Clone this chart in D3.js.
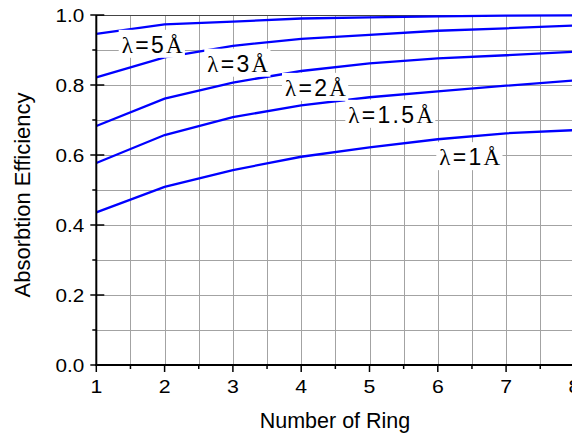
<!DOCTYPE html>
<html>
<head>
<meta charset="utf-8">
<script src="https://cdn.jsdelivr.net/npm/d3@7"></script>
<style>
  html, body { margin: 0; padding: 0; background: #fff; }
  svg { display: block; }
</style>
</head>
<body>
<svg id="chart" width="572" height="434"></svg>
<script>
// ---- data ----
const rings = [1, 2, 3, 4, 5, 6, 7, 8];
const eff5A  = [0.946, 0.973, 0.981, 0.990, 0.993, 0.996, 0.998, 0.999];
const eff3A  = [0.822, 0.879, 0.912, 0.932, 0.943, 0.955, 0.962, 0.970];
const eff2A  = [0.683, 0.761, 0.807, 0.840, 0.862, 0.876, 0.885, 0.895];
const eff15A = [0.577, 0.657, 0.708, 0.742, 0.765, 0.782, 0.798, 0.813];
const eff1A  = [0.436, 0.509, 0.557, 0.595, 0.622, 0.645, 0.662, 0.671];
const seriesNames = ["5", "3", "2", "1.5", "1"];
const xTickValues = [1, 2, 3, 4, 5, 6, 7, 8];
const yTickValues = [0.0, 0.2, 0.4, 0.6, 0.8, 1.0];
const xTitle = "Number of Ring";
const yTitle = "Absorbtion Efficiency";
// label anchors (in data units: ring, efficiency of baseline)
const labelRing = [1.372, 2.625, 3.763, 4.690, 6.022];
const labelEff  = [0.892, 0.838, 0.769, 0.692, 0.571];

const seriesValues = [eff5A, eff3A, eff2A, eff15A, eff1A];

(function () {
// ---- layout ----
const svg = d3.select("#chart");
const mLeft = 96.3, mTop = 15, mBottom = 365;
const xStep = 68.3;
const x = d3.scaleLinear().domain([1, 8]).range([mLeft, mLeft + 7 * xStep]);
const y = d3.scaleLinear().domain([0, 1]).range([mBottom, mTop]);
const plotRight = x(8);

// grid
const gridX = d3.range(1.5, 8.01, 0.5);
const gridY = d3.range(0.1, 0.95, 0.1);
const grid = svg.append("g").attr("stroke", "#a3a3a3").attr("stroke-width", 1);
grid.selectAll("line.gx").data(gridX).join("line")
  .attr("x1", d => Math.round(x(d)) + 0.5).attr("x2", d => Math.round(x(d)) + 0.5)
  .attr("y1", mTop).attr("y2", mBottom);
grid.selectAll("line.gy").data(gridY).join("line")
  .attr("y1", d => Math.round(y(d)) + 0.5).attr("y2", d => Math.round(y(d)) + 0.5)
  .attr("x1", mLeft).attr("x2", plotRight);

// top frame
svg.append("line").attr("x1", mLeft).attr("x2", plotRight)
  .attr("y1", mTop + 0.5).attr("y2", mTop + 0.5)
  .attr("stroke", "#444").attr("stroke-width", 1.2);

// series lines
const line = d3.line().x((d, i) => x(rings[i])).y(d => y(d));
svg.append("g").selectAll("path").data(seriesValues).join("path")
  .attr("d", d => line(d))
  .attr("fill", "none").attr("stroke", "#0000ff").attr("stroke-width", 2.3);

// labels with white boxes
const labG = svg.append("g");
seriesNames.forEach((name, i) => {
  const g = labG.append("g");
  const t = g.append("text")
    .attr("x", x(labelRing[i])).attr("y", y(labelEff[i]))
    .attr("font-size", 23).attr("letter-spacing", 2.3).attr("fill", "#000");
  t.append("tspan").attr("font-family", "'Liberation Serif', serif").text("λ");
  t.append("tspan").attr("font-family", "'Liberation Sans', Arial, sans-serif").text("=" + name);
  t.append("tspan").attr("font-family", "'Liberation Serif', serif").text("Å");
  const bb = t.node().getBBox();
  g.insert("rect", "text")
    .attr("x", bb.x - 3).attr("y", bb.y - 2)
    .attr("width", bb.width + 3).attr("height", bb.height + 2)
    .attr("fill", "#fff");
});

// axes
const fontSans = "'Liberation Sans', Arial, sans-serif";
const axisG = svg.append("g").attr("stroke", "#000");
axisG.append("line").attr("x1", mLeft).attr("x2", mLeft).attr("y1", mTop).attr("y2", mBottom + 1)
  .attr("stroke-width", 2);
axisG.append("line").attr("x1", mLeft - 1).attr("x2", plotRight).attr("y1", mBottom).attr("y2", mBottom)
  .attr("stroke-width", 2);

// y ticks
const yMinor = d3.range(0.1, 1.0, 0.2);
axisG.selectAll("line.ym").data(yTickValues).join("line")
  .attr("x1", mLeft - 6).attr("x2", mLeft + 8)
  .attr("y1", d => y(d)).attr("y2", d => y(d)).attr("stroke-width", 1.5);
axisG.selectAll("line.yn").data(yMinor).join("line")
  .attr("x1", mLeft - 4).attr("x2", mLeft)
  .attr("y1", d => y(d)).attr("y2", d => y(d)).attr("stroke-width", 1.5);
// x ticks
const xMinor = d3.range(1.5, 8, 1);
axisG.selectAll("line.xm").data(xTickValues).join("line")
  .attr("x1", d => x(d)).attr("x2", d => x(d))
  .attr("y1", mBottom).attr("y2", mBottom + 7).attr("stroke-width", 1.5);
axisG.selectAll("line.xn").data(xMinor).join("line")
  .attr("x1", d => x(d)).attr("x2", d => x(d))
  .attr("y1", mBottom).attr("y2", mBottom + 4).attr("stroke-width", 1.5);

// tick labels
const fmt = d3.format(".1f");
svg.append("g").selectAll("text").data(yTickValues).join("text")
  .attr("transform", d => `translate(${mLeft - 12},${y(d) + 6.5}) scale(1.15,1)`)
  .attr("text-anchor", "end").attr("font-family", fontSans).attr("font-size", 18)
  .text(d => fmt(d));
svg.append("g").selectAll("text").data(xTickValues).join("text")
  .attr("transform", d => `translate(${x(d)},${mBottom + 27.5}) scale(1.15,1)`)
  .attr("text-anchor", "middle").attr("font-family", fontSans).attr("font-size", 18.5)
  .text(d => d);

// titles
svg.append("text")
  .attr("x", 335).attr("y", 428)
  .attr("text-anchor", "middle").attr("font-family", fontSans).attr("font-size", 21.5)
  .text(xTitle);
svg.append("text")
  .attr("transform", "translate(29.5,195) rotate(-90)")
  .attr("text-anchor", "middle").attr("font-family", fontSans).attr("font-size", 22)
  .text(yTitle);
})();
</script>
</body>
</html>
